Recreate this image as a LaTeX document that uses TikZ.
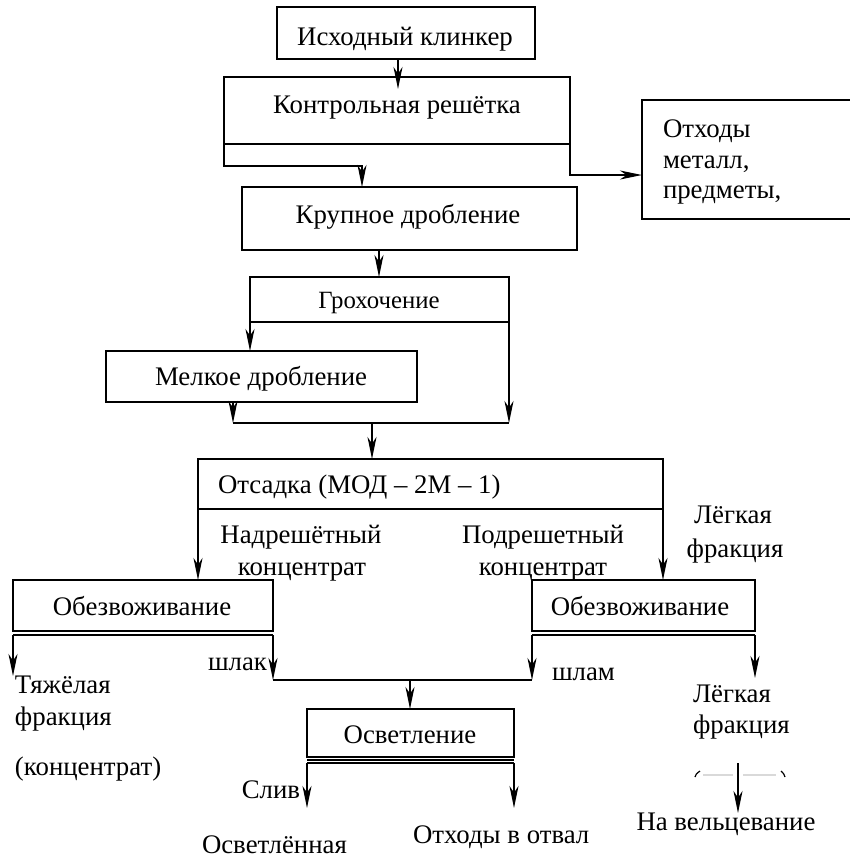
\documentclass[tikz,border=0pt]{standalone}
\usepackage{fontspec}
\setmainfont{Liberation Serif}
\usetikzlibrary{arrows.meta,calc}
\begin{document}
\begin{tikzpicture}[x=0.5pt,y=-0.5pt,
  line width=1pt,
  box/.style={draw, rectangle, inner sep=0pt, outer sep=0pt},
  txt/.style={inner sep=0pt, outer sep=0pt, anchor=base, font=\fontsize{13.4}{15.5}\selectfont},
  txtl/.style={txt, anchor=base west},
  txtr/.style={txt, anchor=base east},
  arr/.style={-{Stealth[length=11pt,width=4.5pt,inset=3.3pt]}},
]
\useasboundingbox (0,0) rectangle (850,859);

% process boxes (sizes in pt, positions in px units)
\node[box, minimum width=129pt,   minimum height=26pt]   (b1) at (406,33)     {};
\node[box, minimum width=173pt,   minimum height=33.5pt] (b2) at (397,110.5)  {};
\begin{scope}
  \clip (0,0) rectangle (850,859);
  \node[box, minimum width=114pt, minimum height=59.5pt] (waste) at (756,159.5) {};
\end{scope}
\node[box, minimum width=167.5pt, minimum height=31.5pt] (b3) at (409.5,218.5) {};
\node[box, minimum width=129.5pt, minimum height=22.5pt] (b4) at (379.5,299.5) {};
\node[box, minimum width=155.5pt, minimum height=25.5pt] (b5) at (261.5,376.5) {};
\node[box, minimum width=232.5pt, minimum height=25pt]   (b6) at (430.5,484)   {};
\node[box, minimum width=130pt,   minimum height=25.5pt] (b7) at (143,605.5)   {};
\node[box, minimum width=111.5pt, minimum height=25.5pt] (b8) at (643.5,605.5) {};
\node[box, minimum width=103.5pt, minimum height=24pt]   (b9) at (410.5,733)   {};

% box captions
\node[txt] (t1) at (405,45)  {Исходный клинкер};
\node[txt] (t2) at (397,113) {Контрольная решётка};
\node[txtl] (w1) at (663,137) {Отходы};
\node[txtl] (w2) at (663,168) {металл,};
\node[txtl] (w3) at (663,198) {предметы,};
\node[txt] (t3) at (408,223) {Крупное дробление};
\node[txt, font=\fontsize{12.4}{14}\selectfont] (t4) at (379,308) {Грохочение};
\node[txt] (t5) at (261,385) {Мелкое дробление};
\node[txtl] (t6) at (218,493) {Отсадка (МОД – 2М – 1)};
\node[txt] (t7) at (142,615) {Обезвоживание};
\node[txt] (t8) at (640,615) {Обезвоживание};
\node[txt] (t9) at (410,743) {Осветление};

% stream labels
\node[txt] (n1) at (301,543) {Надрешётный};
\node[txt] (n2) at (302,575) {концентрат};
\node[txt] (p1) at (543,543) {Подрешетный};
\node[txt] (p2) at (543,575) {концентрат};
\node[txt] (l1) at (733,523) {Лёгкая};
\node[txt] (l2) at (735,557) {фракция};
\node[txtr] (s1) at (267,670) {шлак};
\node[txtl] (s2) at (552,680) {шлам};
\node[txtl] (h1) at (15,693) {Тяжёлая};
\node[txtl] (h2) at (15,725) {фракция};
\node[txtl] (h3) at (15,775) {(концентрат)};
\node[txtl] (f1) at (693,702) {Лёгкая};
\node[txtl] (f2) at (693,733) {фракция};
\node[txt] (f3) at (726,830) {На вельцевание};
\node[txtr] (d1) at (300,798) {Слив};
\node[txtl] (d2) at (202,853) {Осветлённая};
\node[txtl] (d3) at (413,843) {Отходы в отвал};

% junction points of the collector lines
\coordinate (jl) at (233,423);
\coordinate (jr) at (509,423);
\coordinate (kl) at (273,680);
\coordinate (kr) at (532,680);

% flows
\draw[arr, shorten >=-6pt] (b1.south -| 398,0) -- (b2.north -| 398,0);
\draw[arr] (b2.south west) -- ++(0,22) -| (b3.north -| 362,0);
\draw[arr] (b2.south east) |- (waste.west |- 0,175);
\draw[arr] (b3.south -| 379,0) -- (b4.north -| 379,0);
\draw[arr] (b4.south west) -- (b5.north -| b4.south west);
\draw[arr] (b4.south east) -- (jr);
\draw[arr] (b5.south -| jl) -- (jl);
\draw (jl) -- (jr);
\draw[arr] (jl -| 372,0) -- (b6.north -| 372,0);
\draw[arr] (b6.south west) -- (b7.north -| b6.south west);
\draw[arr] (b6.south east) -- (b8.north -| b6.south east);

% double bottoms of the dewatering and clarifying boxes
\draw ([yshift=-2pt]b7.south west) -- ([yshift=-2pt]b7.south east);
\draw ([yshift=-2pt]b8.south west) -- ([yshift=-2pt]b8.south east);
\draw ([yshift=-1.5pt]b9.south west) -- ([yshift=-1.5pt]b9.south east);
\draw ([yshift=-3pt]b9.south west) -- ([yshift=-3pt]b9.south east);

\coordinate (heavy) at (13,676);
\coordinate (light) at (755,678);
\coordinate (drain) at (307,808);
\coordinate (dump)  at (514,808);
\coordinate (weltz) at (738,813);
\coordinate (weltzs) at (738,763);

\draw[arr] ([yshift=-2pt]b7.south west) -- (heavy);
\draw[arr] ([yshift=-2pt]b7.south east) -- (kl);
\draw[arr] ([yshift=-2pt]b8.south west) -- (kr);
\draw (kl) -- (kr);
\draw[arr] (kl -| 410,0) -- (b9.north -| 410,0);
\draw[arr] ([yshift=-2pt]b8.south east) -- (light);
\draw[arr] ([yshift=-3pt]b9.south west) -- (drain);
\draw[arr] ([yshift=-3pt]b9.south east) -- (dump);
\draw[arr] (weltzs) -- (weltz);

% clipped brackets around the welting arrow
\draw[line width=0.6pt] (695,777) .. controls (696,774) .. (700,771);
\draw[line width=0.6pt] (781,771) .. controls (784,774) .. (785,777);
\draw[line width=0.6pt, black!15] (703,775) -- (733,775);
\draw[line width=0.6pt, black!15] (743,775) -- (776,775);
\end{tikzpicture}
\end{document}
